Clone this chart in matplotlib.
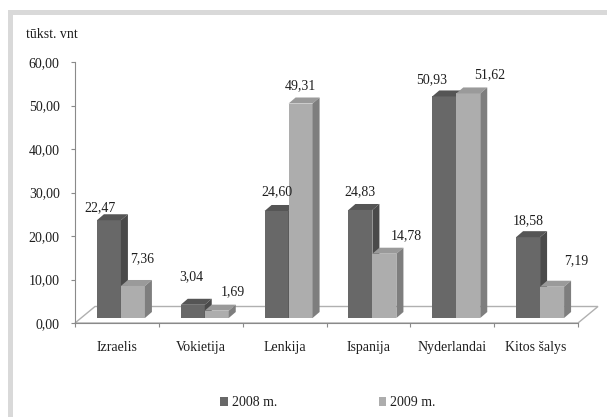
import matplotlib
matplotlib.use('Agg')
import matplotlib.pyplot as plt
from matplotlib.patches import Polygon, Rectangle, Patch
from matplotlib.ticker import FixedLocator, FuncFormatter, NullFormatter

# ---------------- data ----------------
categories = ['Izraelis', 'Vokietija', 'Lenkija', 'Ispanija', 'Nyderlandai', 'Kitos šalys']
values_2008 = [22.47, 3.04, 24.60, 24.83, 50.93, 18.58]
values_2009 = [7.36, 1.69, 49.31, 14.78, 51.62, 7.19]
series_names = ['2008 m.', '2009 m.']
y_ticks = [0, 10, 20, 30, 40, 50, 60]
unit_label = 'tūkst. vnt'

# label nudges (pixels) to mimic the original label placement
nudge_x_2008 = [-9, -1, 0, 0, -13, 0]
nudge_y_2008 = [0, 16, 7, 6, 4, 4]
nudge_x_2009 = [9, 16, 0, 22, 21, 24]
nudge_y_2009 = [15, 6, 5, 6, 6, 14]

# ---------------- style ----------------
plt.rcParams['font.family'] = ['Liberation Serif', 'DejaVu Serif']
FS = 10
TXT = '#1e1e1e'
AXC = '#8a8a8a'
FLOORC = '#b0b0b0'
dark = dict(front='#686868', top='#555555', side='#4a4a4a')
light = dict(front='#adadad', top='#9a9a9a', side='#7e7e7e')

W, H = 607, 417
fig = plt.figure(figsize=(W / 100, H / 100), dpi=100)
fig.patch.set_facecolor('white')

px_left, px_right, px_bottom, px_top = 75, 578, 323, 62
ax = fig.add_axes([px_left / W, 1 - px_bottom / H,
                   (px_right - px_left) / W, (px_bottom - px_top) / H])
ax.set_xlim(0, len(categories))
ax.set_ylim(y_ticks[0], y_ticks[-1])
ax.patch.set_alpha(0)

sx = (px_right - px_left) / len(categories)      # px per category
sy = (px_bottom - px_top) / (y_ticks[-1] - y_ticks[0])  # px per unit

# depth geometry (converted from pixels into data units)
fdx, fdy = 20 / sx, 16.5 / sy     # floor depth
bdx, bdy = 7 / sx, 6 / sy         # bar depth
shx, shy = 4 / sx, 5 / sy         # bar placement inside floor
bw = 24 / sx                      # bar width

# floor
floor = Polygon([(0, 0), (len(categories), 0),
                 (len(categories) + fdx, fdy), (fdx, fdy)],
                closed=True, facecolor='white', edgecolor=FLOORC,
                linewidth=1.0, zorder=1, clip_on=False)
ax.add_patch(floor)


def draw_series(vals, offset, cols, zo):
    lefts = [i + 0.5 + offset + shx for i in range(len(vals))]
    ax.bar(lefts, vals, width=bw, bottom=shy, align='edge',
           color=cols['front'], linewidth=0, zorder=zo, clip_on=False)
    for x0, v in zip(lefts, vals):
        top = shy + v
        ax.add_patch(Polygon([(x0, top), (x0 + bw, top),
                              (x0 + bw + bdx, top + bdy), (x0 + bdx, top + bdy)],
                             closed=True, facecolor=cols['top'], linewidth=0,
                             zorder=zo, clip_on=False))
        ax.add_patch(Polygon([(x0 + bw, shy), (x0 + bw + bdx, shy + bdy),
                              (x0 + bw + bdx, top + bdy), (x0 + bw, top)],
                             closed=True, facecolor=cols['side'], linewidth=0,
                             zorder=zo, clip_on=False))
    return lefts


l08 = draw_series(values_2008, -bw, dark, 3)
l09 = draw_series(values_2009, 0, light, 4)


def fmt(v):
    return f'{v:.2f}'.replace('.', ',')


for lefts, vals, nx, ny in [(l08, values_2008, nudge_x_2008, nudge_y_2008),
                            (l09, values_2009, nudge_x_2009, nudge_y_2009)]:
    for x0, v, dx, dy in zip(lefts, vals, nx, ny):
        ax.annotate(fmt(v), xy=(x0 + bw / 2, shy + v + bdy),
                    xytext=(dx * 0.72, dy * 0.72), textcoords='offset points',
                    ha='center', va='bottom', fontsize=FS, color=TXT,
                    zorder=6, annotation_clip=False)

# axes / spines
for s in ['top', 'right']:
    ax.spines[s].set_visible(False)
ax.spines['left'].set_color(AXC)
ax.spines['bottom'].set_color(AXC)
ax.spines['left'].set_zorder(2)
ax.spines['bottom'].set_zorder(2)

ax.set_yticks(y_ticks)
ax.yaxis.set_major_formatter(FuncFormatter(lambda v, p: fmt(v)))
ax.tick_params(axis='y', direction='out', length=3, width=0.8, color=AXC,
               labelsize=FS, labelcolor=TXT, pad=8)

ax.xaxis.set_major_locator(FixedLocator(list(range(len(categories) + 1))))
ax.xaxis.set_major_formatter(NullFormatter())
ax.xaxis.set_minor_locator(FixedLocator([i + 0.5 for i in range(len(categories))]))
ax.set_xticklabels(categories, minor=True)
ax.tick_params(axis='x', which='major', direction='out', length=3, width=0.8, color=AXC)
ax.tick_params(axis='x', which='minor', length=0, labelsize=FS, labelcolor=TXT, pad=13)

# unit label
fig.text(26 / W, 1 - 35 / H, unit_label, fontsize=FS, color=TXT, ha='left', va='center')

# legend
handles = [Patch(facecolor=dark['front'], edgecolor='none', label=series_names[0]),
           Patch(facecolor=light['front'], edgecolor='none', label=series_names[1])]
fig.legend(handles=handles, loc='center', bbox_to_anchor=(328 / W, 1 - 403 / H),
           ncol=2, frameon=False, fontsize=FS, handlelength=0.55, handleheight=0.55,
           handletextpad=0.3, columnspacing=7.3, labelcolor=TXT)

# outer frame
frame = Rectangle((10 / W, -10 / H), (611 - 10) / W, (417 - 11.5 + 10) / H,
                  transform=fig.transFigure, fill=False, edgecolor='#d9d9d9',
                  linewidth=3.6, zorder=0)
fig.patches.append(frame)

fig.savefig('out.png', dpi=100, facecolor='white')
